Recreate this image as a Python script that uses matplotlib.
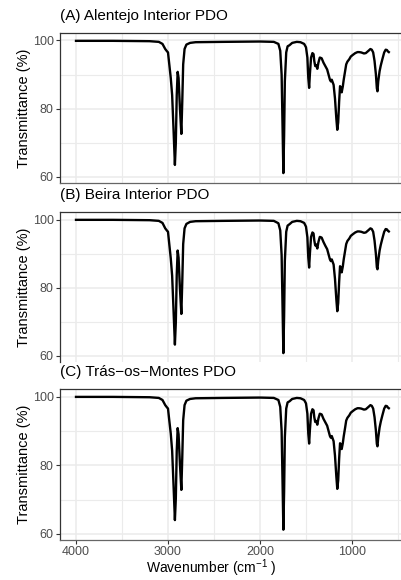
import matplotlib
matplotlib.use("Agg")
import matplotlib.pyplot as plt
from matplotlib.ticker import MultipleLocator

# wavenumber grid (cm-1) and transmittance (%)
wavenumber = [
    4000, 3600, 3200, 3100, 3060, 3030, 3010, 3000, 2990, 2970,
    2955, 2940, 2925, 2915, 2905, 2895, 2885, 2870, 2855, 2845,
    2835, 2820, 2800, 2760, 2700, 2400, 2000, 1850, 1800, 1780,
    1765, 1755, 1746, 1738, 1730, 1715, 1700, 1680, 1650, 1600,
    1560, 1520, 1500, 1485, 1475, 1466, 1458, 1445, 1430, 1418,
    1410, 1400, 1390, 1377, 1365, 1350, 1330, 1310, 1290, 1270,
    1255, 1240, 1230, 1220, 1200, 1185, 1170, 1160, 1150, 1140,
    1130, 1120, 1112, 1100, 1090, 1075, 1063, 1050, 1030, 1013,
    990, 965, 940, 923, 900, 870, 850, 820, 800, 785,
    770, 755, 740, 730, 723, 715, 700, 687, 670, 650,
    634, 620, 610, 600,
]

alentejo = [
    99.9, 99.9, 99.8, 99.6, 99.0, 97.5, 96.8, 96.5, 94.0, 89.0,
    84.0, 74.0, 63.5, 70.0, 84.0, 90.8, 89.0, 80.0, 72.6, 82.0,
    93.0, 97.5, 98.8, 99.3, 99.5, 99.6, 99.7, 99.6, 99.0, 97.0,
    90.0, 75.0, 61.1, 72.0, 88.0, 96.5, 98.3, 98.6, 99.3, 99.6,
    99.5, 99.0, 98.0, 95.0, 89.0, 86.1, 90.0, 95.0, 96.3, 96.0,
    94.0, 92.5, 92.8, 91.7, 93.5, 95.0, 94.8, 93.5, 92.5, 91.5,
    90.0, 88.5, 88.0, 88.5, 87.0, 83.0, 77.0, 73.8, 76.0, 82.0,
    86.6, 86.0, 84.8, 86.5, 88.5, 91.0, 93.0, 93.8, 94.5, 95.3,
    95.8, 96.3, 96.6, 96.6, 96.5, 96.2, 96.3, 97.0, 97.5, 97.3,
    96.5, 94.0, 90.0, 86.0, 85.1, 88.0, 91.0, 92.7, 94.5, 96.5,
    97.3, 97.2, 96.8, 96.6,
]

beira = [
    99.9, 99.9, 99.8, 99.6, 99.0, 97.4, 96.7, 96.4, 93.8, 88.6,
    83.5, 73.5, 63.3, 69.8, 83.8, 90.9, 88.8, 79.6, 72.3, 81.6,
    92.8, 97.4, 98.7, 99.3, 99.5, 99.6, 99.7, 99.6, 98.9, 96.8,
    89.6, 74.5, 60.8, 71.6, 87.8, 96.4, 98.2, 98.6, 99.3, 99.6,
    99.5, 99.0, 97.9, 94.8, 88.8, 85.9, 89.8, 94.9, 96.2, 95.9,
    93.9, 92.4, 92.7, 91.5, 93.4, 94.9, 94.7, 93.4, 92.3, 91.3,
    89.8, 88.3, 87.8, 88.3, 86.8, 82.6, 76.5, 73.1, 75.5, 81.6,
    86.3, 85.8, 84.5, 86.2, 88.3, 90.8, 92.8, 93.7, 94.4, 95.2,
    95.7, 96.2, 96.5, 96.5, 96.4, 96.1, 96.2, 96.9, 97.4, 97.2,
    96.4, 93.8, 89.8, 86.0, 85.4, 87.9, 90.9, 92.6, 94.4, 96.4,
    97.2, 97.1, 96.7, 96.5,
]

tras_os_montes = [
    99.9, 99.9, 99.8, 99.6, 99.0, 97.5, 96.8, 96.5, 94.0, 89.2,
    84.2, 74.3, 64.0, 70.3, 84.2, 90.8, 89.0, 80.2, 72.8, 82.2,
    93.1, 97.5, 98.8, 99.3, 99.5, 99.6, 99.7, 99.6, 99.0, 97.0,
    90.0, 75.2, 61.2, 72.2, 88.1, 96.5, 98.3, 98.6, 99.3, 99.6,
    99.5, 99.0, 98.0, 95.0, 89.2, 86.3, 90.1, 95.0, 96.3, 96.0,
    94.0, 92.6, 92.9, 91.8, 93.6, 95.0, 94.8, 93.5, 92.5, 91.5,
    90.0, 88.5, 88.0, 88.5, 87.0, 82.8, 76.6, 73.1, 75.6, 81.8,
    86.4, 85.9, 84.7, 86.4, 88.4, 90.9, 93.0, 93.8, 94.5, 95.3,
    95.8, 96.3, 96.6, 96.6, 96.5, 96.2, 96.3, 97.0, 97.5, 97.3,
    96.5, 94.0, 90.0, 86.2, 85.5, 88.0, 91.0, 92.7, 94.5, 96.5,
    97.3, 97.2, 96.8, 96.6,
]

titles = ["(A) Alentejo Interior PDO", "(B) Beira Interior PDO", "(C) Trás\u2212os\u2212Montes PDO"]
series = [alentejo, beira, tras_os_montes]

plt.rcParams.update({
    "font.family": ["Liberation Sans", "DejaVu Sans"],
    "mathtext.fontset": "custom",
    "mathtext.rm": "Liberation Sans",
    "mathtext.it": "Liberation Sans:italic",
    "mathtext.default": "regular",
})

W, H = 401, 580
fig = plt.figure(figsize=(W / 100, H / 100), dpi=100)

# panel (top, bottom) in pixels
panels = [(33, 183), (212, 362), (389, 540)]
left_px = 60
px_per_wn = 0.092
x_left = 4000 + (76 - left_px) / px_per_wn
x_right = x_left - (W - left_px) / px_per_wn
ax_w = W - left_px

for i, ((top, bot), title, ys) in enumerate(zip(panels, titles, series)):
    ax = fig.add_axes([left_px / W, 1 - bot / H, ax_w / W, (bot - top) / H])
    ax.plot(wavenumber, ys, color="black", lw=1.7, solid_joinstyle="round")
    ax.set_xlim(x_left, x_right)
    ax.set_ylim(58.2, 102.2)

    ax.xaxis.set_major_locator(MultipleLocator(1000))
    ax.xaxis.set_minor_locator(MultipleLocator(500))
    ax.yaxis.set_major_locator(MultipleLocator(20))
    ax.yaxis.set_minor_locator(MultipleLocator(10))
    ax.grid(which="major", color="#ebebeb", lw=1.1)
    ax.grid(which="minor", color="#ebebeb", lw=0.8)
    ax.set_axisbelow(True)

    ax.spines["right"].set_visible(False)
    ax.spines["top"].set_color("#333333")
    ax.spines["left"].set_color("#333333")
    ax.spines["bottom"].set_color("#666666")
    for s in ax.spines.values():
        s.set_linewidth(0.9)
    if i == 1:
        ax.spines["bottom"].set_visible(False)

    ax.tick_params(which="minor", length=0)
    ax.tick_params(axis="y", which="major", length=3, width=0.8, color="#333333",
                   labelsize=9, labelcolor="#4d4d4d", pad=1.5)
    if i < 2:
        ax.tick_params(axis="x", which="both", bottom=False, labelbottom=False)
    else:
        ax.tick_params(axis="x", which="major", length=3, width=0.8, color="#333333",
                       labelsize=9, labelcolor="#4d4d4d", pad=1.5)
        ax.set_xlabel("Wavenumber (cm$^{-1}$ )", fontsize=10)
        ax.xaxis.set_label_coords((211 - left_px) / ax_w, -0.115)

    ax.set_ylabel("Transmittance (%)", fontsize=10.5)
    ax.yaxis.set_label_coords(-(left_px - 31) / ax_w, 0.5)
    ax.annotate(title, xy=(0, 1), xycoords="axes fraction", xytext=(0, 12),
                textcoords="offset points", ha="left", va="center", fontsize=11)

fig.savefig("out.png", dpi=100)
